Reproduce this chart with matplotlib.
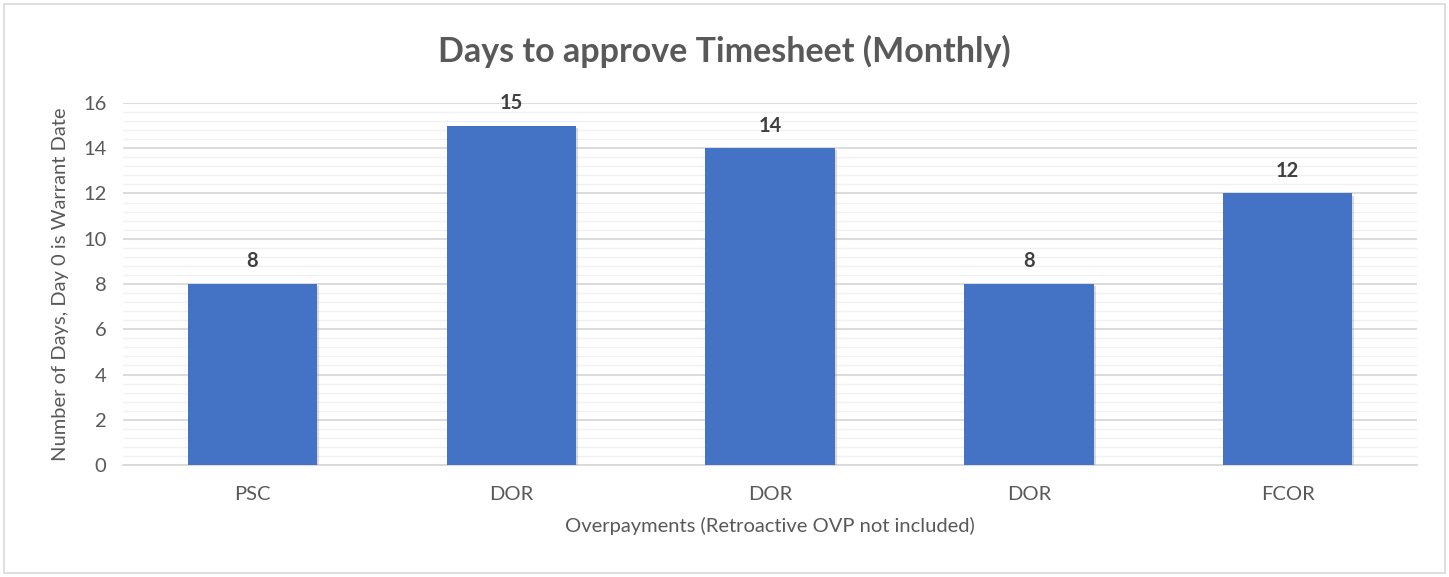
import matplotlib
matplotlib.use("Agg")
import matplotlib.pyplot as plt
from matplotlib.ticker import MultipleLocator
import matplotlib.patheffects as pe
from matplotlib.patches import Rectangle

categories = ["PSC", "DOR", "DOR", "DOR", "FCOR"]
values = [8, 15, 14, 8, 12]
title = "Days to approve Timesheet (Monthly)"
ylabel = "Number of Days, Day 0 is Warrant Date"
xlabel = "Overpayments (Retroactive OVP not included)"

plt.rcParams['font.family'] = ['Lato', 'DejaVu Sans']

fig = plt.figure(figsize=(14.49, 5.77), dpi=100)
ax = fig.add_axes([123/1449, 1-465/577, (1417-123)/1449, (465-103)/577])

x = list(range(len(categories)))
bars = ax.bar(x, values, width=0.5, color="#4472C4", zorder=3)
for b in bars:
    b.set_path_effects([pe.SimplePatchShadow(offset=(1.5, -1.5), shadow_rgbFace="#999999", alpha=0.35), pe.Normal()])

for xi, v in zip(x, values):
    ax.annotate(str(v), (xi, v), xytext=(0, 9), textcoords="offset points",
                ha="center", va="bottom", fontsize=14.5, fontweight="bold", color="#404040")

ax.set_xlim(-0.5, len(categories) - 0.5)
ax.set_ylim(0, 16)
ax.yaxis.set_major_locator(MultipleLocator(2))
ax.yaxis.set_minor_locator(MultipleLocator(0.4))
ax.grid(axis="y", which="major", color="#D9D9D9", linewidth=1.3, zorder=0)
ax.grid(axis="y", which="minor", color="#F0F0F0", linewidth=1.0, zorder=0)
ax.set_xticks(x)
ax.set_xticklabels(categories)
ax.tick_params(axis="both", which="both", length=0, labelsize=14.5, colors="#595959")
ax.tick_params(axis="x", pad=15)
ax.tick_params(axis="y", pad=12)
for s in ["top", "right", "left"]:
    ax.spines[s].set_visible(False)
ax.spines["bottom"].set_color("#D9D9D9")
ax.spines["bottom"].set_linewidth(1.3)

ax.set_ylabel(ylabel, fontsize=14.5, color="#595959", labelpad=10)
ax.set_xlabel(xlabel, fontsize=14.5, color="#595959", labelpad=10)
fig.text(0.5, 1-51/577, title, ha="center", va="center", fontsize=24.5, fontweight="bold", color="#595959")

fig.patches.append(Rectangle((4/1449, 4/577), 1-8/1449, 1-8/577, transform=fig.transFigure,
                             fill=False, edgecolor="#D9D9D9", linewidth=1.2))

fig.savefig("out.png", dpi=100)
